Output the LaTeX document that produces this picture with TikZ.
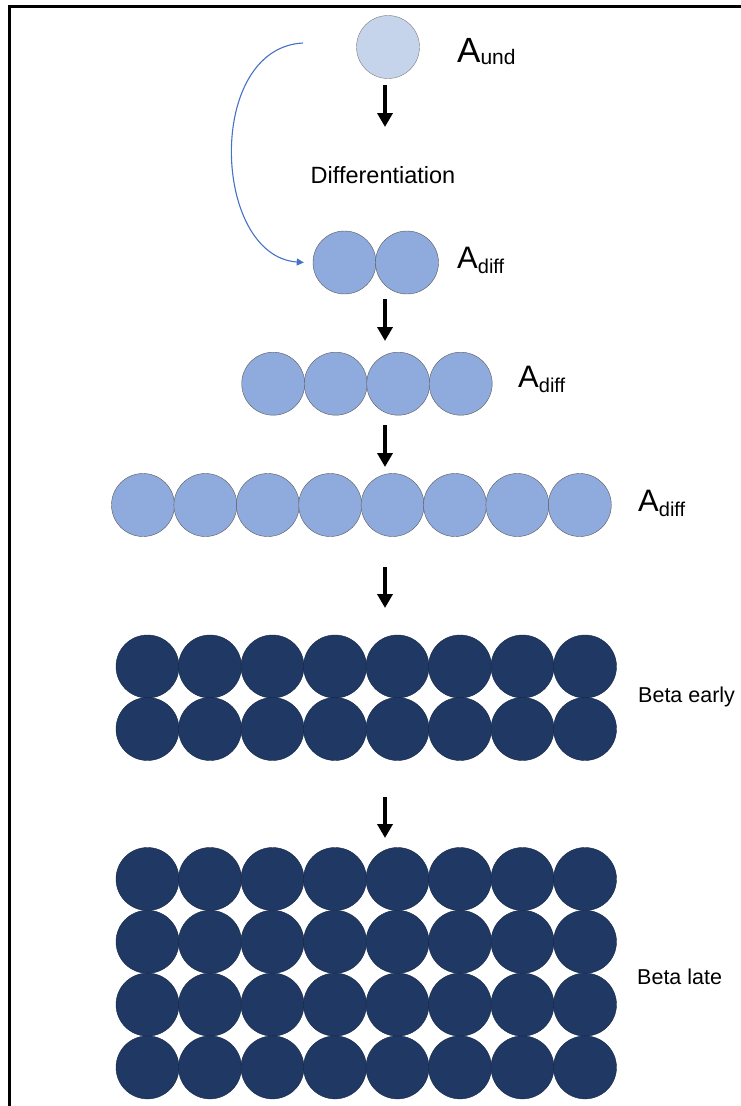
\documentclass[tikz,border=0pt]{standalone}
\usepackage{fontspec}
\setmainfont{Liberation Sans}
\usetikzlibrary{arrows.meta}
\definecolor{undfill}{HTML}{C5D3EB}
\definecolor{difffill}{HTML}{8FAADC}
\definecolor{betafill}{HTML}{203864}
\definecolor{loopblue}{HTML}{4472C4}
\newcommand{\cellsub}[2][-5pt]{\raisebox{#1}{\fontsize{20}{20}\selectfont #2}}

\begin{document}
\begin{tikzpicture}[x=1pt,y=-1pt,
  cell/.style={circle,inner sep=0pt,minimum size=63pt,line width=0.4pt},
  undcell/.style={cell,fill=undfill,draw=gray},
  diffcell/.style={cell,fill=difffill,draw=gray!70!black},
  betacell/.style={cell,fill=betafill,draw=betafill!70!black},
  stagearrow/.style={-{Triangle[length=14pt,width=15pt]},line width=3.5pt},
  looparrow/.style={-{Triangle[length=7pt,width=7pt]},draw=loopblue,line width=1.1pt},
  cellname/.style={anchor=base west,inner sep=0pt,font=\fontsize{31}{31}\selectfont},
  caption/.style={anchor=west,inner sep=0pt,font=\fontsize{21.5}{24}\selectfont}]
\useasboundingbox (0,0) rectangle (740,1106);

% frame
\draw[line width=2.5pt,line join=miter] (9.5,1110) |- (745,6.5);

% undifferentiated alpha cell
\node[undcell] (und) at (388,47) {};
\node[cellname,font=\fontsize{35}{35}\selectfont] (lund) at (457,62) {A\cellsub[-2pt]{\fontsize{21}{21}\selectfont und}};

% differentiating alpha cells
\foreach \i in {0,1} \node[diffcell] (r2c\i) at ({344.5+62.5*\i},262.5) {};
\foreach \i in {0,...,3} \node[diffcell] (r3c\i) at ({273.2+62.5*\i},383.7) {};
\foreach \i in {0,...,7} \node[diffcell] (r4c\i) at ({143+62.4*\i},505) {};
\node[cellname] (l2) at (457,268) {A\cellsub{diff}};
\node[cellname] (l3) at (518,387) {A\cellsub{diff}};
\node[cellname] (l4) at (638,511) {A\cellsub{diff}};

\node[font=\fontsize{23.5}{26}\selectfont,inner sep=0pt] (diff) at (383,175) {Differentiation};

% beta cells
\foreach \j in {0,1}
  \foreach \i in {0,...,7}
    \node[betacell] (be\j\i) at ({147.5+62.5*\i},{666.5+62.5*\j}) {};
\foreach \j in {0,...,3}
  \foreach \i in {0,...,7}
    \node[betacell] (bl\j\i) at ({147.5+62.5*\i},{879+62.8*\j}) {};
\node[caption] (learly) at (638,697) {Beta early};
\node[caption] (llate) at (637,977) {Beta late};

% stage arrows
\coordinate (a1s) at (385,85);  \coordinate (a1e) at (385,127);
\coordinate (a2s) at (385,299); \coordinate (a2e) at (385,341);
\coordinate (a3s) at (385,425); \coordinate (a3e) at (385,467);
\coordinate (a4s) at (385,567); \coordinate (a4e) at (385,608);
\coordinate (a5s) at (385,797); \coordinate (a5e) at (385,838);
\foreach \k in {1,...,5} \draw[stagearrow] (a\k s) -- (a\k e);

% differentiation loop
\coordinate (loopstart) at (303,43);
\coordinate (loopend) at ([xshift=-9pt]r2c0.west);
\draw[looparrow] (loopstart) .. controls (205,48) and (212,256) .. (loopend);
\end{tikzpicture}
\end{document}
